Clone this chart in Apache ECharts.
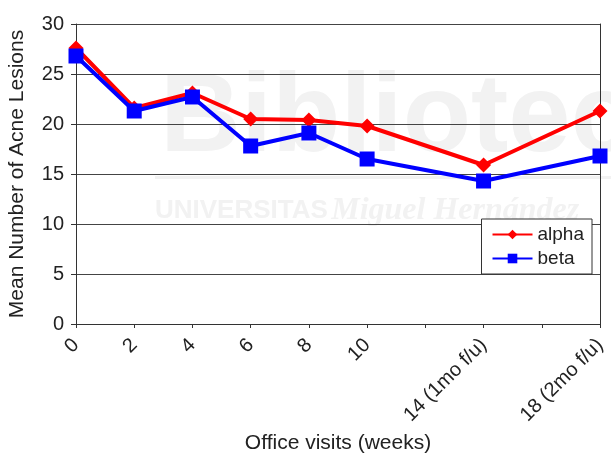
<!DOCTYPE html>
<html>
<head>
<meta charset="utf-8">
<style>
  html, body { margin: 0; padding: 0; background: #fff; }
  #chart { width: 611px; height: 455px; }
</style>
<script src="https://cdn.jsdelivr.net/npm/echarts@6/dist/echarts.min.js"></script>
</head>
<body>
<div id="chart"></div>
<script>
// office visit weeks and their axis labels
var weeks = [0, 2, 4, 6, 8, 10, 14, 18];
var tickLabels = {
  0: "0", 2: "2", 4: "4", 6: "6", 8: "8", 10: "10",
  14: "14 (1mo f/u)", 18: "18 (2mo f/u)"
};
var alpha = [27.6, 21.6, 23.1, 20.5, 20.4, 19.8, 15.9, 21.3];
var beta = [26.8, 21.3, 22.7, 17.8, 19.1, 16.5, 14.3, 16.8];

function pairs(vals) {
  return weeks.map(function (w, i) { return [w, vals[i]]; });
}

var chart = echarts.init(document.getElementById("chart"));
var font = "Liberation Sans, Arial, sans-serif";
var wm = "#f2f2f2"; // watermark grey

chart.setOption({
  animation: false,
  textStyle: { fontFamily: font },
  grid: { left: 76, right: 11, top: 24, bottom: 131, containLabel: false, outerBoundsMode: "none" },
  graphic: [
    {
      type: "text", left: 160, top: 64, z: -10, silent: true,
      style: { text: "Biblioteca", fontSize: 112, fontWeight: "bold", fontFamily: font, fill: wm }
    },
    {
      type: "rect", left: 155, top: 176, z: -10, silent: true,
      shape: { width: 456, height: 3 }, style: { fill: wm }
    },
    {
      type: "text", left: 155, top: 195, z: -10, silent: true,
      style: {
        text: "{a|UNIVERSITAS} {b|Miguel Hernández}",
        rich: {
          a: { fontSize: 26, fontWeight: "bold", fontFamily: font, fill: wm },
          b: { fontSize: 32, fontStyle: "italic", fontWeight: "bold",
               fontFamily: "Liberation Serif, serif", fill: wm }
        }
      }
    }
  ],
  legend: {
    orient: "vertical",
    right: 19,
    top: 219,
    padding: [6, 8, 6, 10],
    itemGap: 5,
    itemWidth: 40,
    itemHeight: 12,
    backgroundColor: "#fff",
    borderColor: "#333",
    borderWidth: 1,
    textStyle: { fontSize: 19, color: "#222", fontFamily: font },
    data: ["alpha", "beta"]
  },
  xAxis: {
    type: "value",
    min: 0,
    max: 18,
    interval: 2,
    name: "Office visits (weeks)",
    nameLocation: "middle",
    nameGap: 108,
    nameTextStyle: { fontSize: 21, color: "#222" },
    axisLine: { lineStyle: { color: "#333", width: 1 } },
    axisTick: { show: true, length: 4, lineStyle: { color: "#333" } },
    axisLabel: {
      rotate: 45,
      margin: 18,
      fontSize: 20,
      color: "#222",
      formatter: function (v) { return tickLabels[v] || ""; }
    },
    splitLine: { show: false }
  },
  yAxis: [
    {
      type: "value",
      min: 0,
      max: 30,
      interval: 5,
      name: "Mean Number of Acne Lesions",
      nameLocation: "middle",
      nameGap: 48,
      nameTextStyle: { fontSize: 21, color: "#222" },
      axisLine: { show: true, lineStyle: { color: "#333", width: 1 } },
      axisTick: { show: true, length: 5, lineStyle: { color: "#333" } },
      axisLabel: { fontSize: 20, color: "#222", margin: 12 },
      splitLine: { show: true, lineStyle: { color: "#444", width: 1 } }
    },
    {
      type: "value",
      min: 0,
      max: 30,
      interval: 5,
      position: "right",
      axisLine: { show: true, lineStyle: { color: "#333", width: 1 } },
      axisTick: { show: false },
      axisLabel: { show: false },
      splitLine: { show: false }
    }
  ],
  series: [
    {
      name: "alpha",
      type: "line",
      data: pairs(alpha),
      color: "#ff0000",
      symbol: "diamond",
      symbolSize: 15,
      lineStyle: { width: 4 },
      z: 3
    },
    {
      name: "beta",
      type: "line",
      data: pairs(beta),
      color: "#0000ff",
      symbol: "rect",
      symbolSize: 15,
      lineStyle: { width: 4 },
      z: 4
    }
  ]
});
</script>
</body>
</html>
